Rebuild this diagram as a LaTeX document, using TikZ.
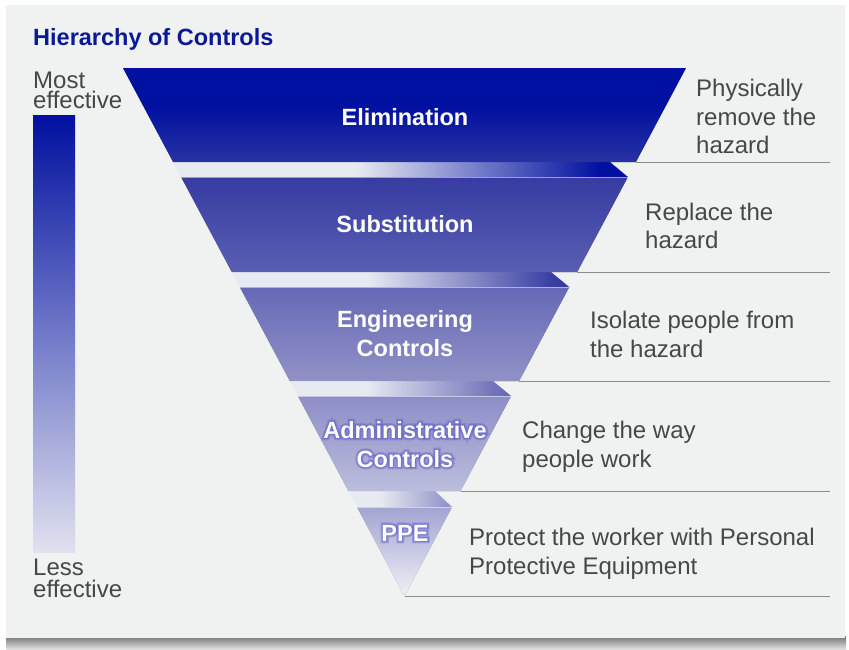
\documentclass[tikz,border=0pt]{standalone}
\usepackage{fontspec}
\setmainfont{Liberation Sans}
\newfontfamily\glowwide{Liberation Sans Bold}[FakeBold=20]
\newfontfamily\glownarrow{Liberation Sans Bold}[FakeBold=10]
\definecolor{cardbg}{HTML}{F0F1F1}
\definecolor{titleblue}{HTML}{0A1A96}
\definecolor{txtgrey}{HTML}{474747}
\definecolor{linegrey}{HTML}{8C8C8C}
\definecolor{bandlight}{HTML}{E8EAF2}
\definecolor{eTop}{HTML}{0010A0}
\definecolor{eBot}{HTML}{2832A2}
\definecolor{sTop}{HTML}{363CA2}
\definecolor{sBot}{HTML}{5A5EB2}
\definecolor{gTop}{HTML}{6668B6}
\definecolor{gBot}{HTML}{9092C6}
\definecolor{aTop}{HTML}{8C8EC6}
\definecolor{aBot}{HTML}{BCBDDD}
\definecolor{pTop}{HTML}{A2A4D2}
\definecolor{pBot}{HTML}{F0F0F6}
\definecolor{barBot}{HTML}{E0E1EF}
\definecolor{glowc}{HTML}{5C5EC6}
\pgfdeclarehorizontalshading{bandA}{100bp}{color(0bp)=(bandlight); color(45bp)=(bandlight); color(72bp)=(eTop); color(100bp)=(eTop)}
\pgfdeclarehorizontalshading{bandB}{100bp}{color(0bp)=(bandlight); color(45bp)=(bandlight); color(73bp)=(sTop); color(100bp)=(sTop)}
\pgfdeclarehorizontalshading{bandC}{100bp}{color(0bp)=(bandlight); color(42bp)=(bandlight); color(74bp)=(gTop); color(100bp)=(gTop)}
\pgfdeclarehorizontalshading{bandD}{100bp}{color(0bp)=(bandlight); color(40bp)=(bandlight); color(75bp)=(aTop); color(100bp)=(aTop)}
\pgfdeclareverticalshading{elimsh}{100bp}{color(0bp)=(eBot); color(25bp)=(eBot); color(55bp)=(eTop); color(100bp)=(eTop)}
\begin{document}
\begin{tikzpicture}[x=1pt,y=-1pt,
  rtext/.style={anchor=base west, inner sep=0pt, text=txtgrey, font=\fontsize{24}{28}\selectfont},
  ltext/.style={anchor=base west, inner sep=0pt, text=txtgrey, font=\fontsize{24}{20}\selectfont},
  lbl/.style={anchor=base, inner sep=0pt, text=white, font=\fontsize{23.5}{28}\selectfont\bfseries},
  glowA/.style={anchor=base, inner sep=0pt, text=glowc, opacity=0.35, font=\fontsize{23.5}{28}\selectfont\glowwide},
  glowB/.style={anchor=base, inner sep=0pt, text=glowc, opacity=0.45, font=\fontsize{23.5}{28}\selectfont\glownarrow},
  guide/.style={draw=linegrey, line width=0.9pt},
  shad/.style={fill=black, opacity=0.09}]
\useasboundingbox (0,0) rectangle (849,649);
\fill[white] (0,0) rectangle (849,649);
% card
\shade[top color=black!55, bottom color=black!12] (6,636) rectangle (846,649);
\fill[cardbg] (6,5) rectangle (845,638);

% title
\node[anchor=base west, inner sep=0pt, text=titleblue, font=\fontsize{23.5}{28}\selectfont\bfseries] (title) at (33,45) {Hierarchy of Controls};

% left scale
\node[ltext] (most1) at (33,88) {Most};
\node[ltext] (most2) at (33,108) {effective};
\shade[top color=eTop, bottom color=barBot] (33,115) rectangle (75,552);
\node[ltext] (less1) at (33,575) {Less};
\node[ltext] (less2) at (33,597) {effective};

% coordinates of the funnel
\coordinate (E1) at (123,68);   \coordinate (E2) at (686,68);
\coordinate (E3) at (635.9,162); \coordinate (E4) at (173.1,162);
\coordinate (S1) at (181.1,177); \coordinate (S2) at (627.9,177);
\coordinate (S3) at (577.2,272); \coordinate (S4) at (231.8,272);
\coordinate (G1) at (239.8,287); \coordinate (G2) at (569.3,287);
\coordinate (G3) at (519.1,381); \coordinate (G4) at (289.9,381);
\coordinate (A1) at (297.9,396); \coordinate (A2) at (511.1,396);
\coordinate (A3) at (460.5,491); \coordinate (A4) at (348.5,491);
\coordinate (P1) at (357,507);   \coordinate (P2) at (452,507);
\coordinate (P3) at (404.5,596);

% shadows
\foreach \dx/\dy in {-4/3,-3/2,-2/1,-1/0,0/-2,1/-1} {
  \fill[shad, shift={(\dx,\dy)}] (E1) -- (E2) -- (E3) -- (E4) -- cycle;
  \fill[shad, shift={(\dx,\dy)}] (S1) -- (S2) -- (S3) -- (S4) -- cycle;
  \fill[shad, shift={(\dx,\dy)}] (G1) -- (G2) -- (G3) -- (G4) -- cycle;
  \fill[shad, shift={(\dx,\dy)}] (A1) -- (A2) -- (A3) -- (A4) -- cycle;
  \fill[shad, shift={(\dx,\dy)}] (P1) -- (P2) -- (P3) -- cycle;
}

% guide lines
\draw[guide] (E3) -- (830,162);
\draw[guide] (S3) -- (830,272);
\draw[guide] (G3) -- (830,381);
\draw[guide] (A3) -- (830,491);
\draw[guide] (P3) -- (830,596);

% bands
\shade[shading=bandA] (E4) -- (610,162) -- (S2) -- (S1) -- cycle;
\shade[shading=bandB] (S4) -- (551,272) -- (G2) -- (G1) -- cycle;
\shade[shading=bandC] (G4) -- (493,381) -- (A2) -- (A1) -- cycle;
\shade[shading=bandD] (A4) -- (435,491) -- (P2) -- (P1) -- cycle;

% layers
\shade[shading=elimsh] (E1) -- (E2) -- (E3) -- (E4) -- cycle;
\shade[top color=sTop, bottom color=sBot] (S1) -- (S2) -- (S3) -- (S4) -- cycle;
\shade[top color=gTop, bottom color=gBot] (G1) -- (G2) -- (G3) -- (G4) -- cycle;
\shade[top color=aTop, bottom color=aBot] (A1) -- (A2) -- (A3) -- (A4) -- cycle;
\shade[top color=pTop, bottom color=pBot] (P1) -- (P2) -- (P3) -- cycle;
\draw[white, opacity=0.5, line width=0.6pt] (S1) -- (S2) (G1) -- (G2) (A1) -- (A2) (P1) -- (P2);

% glows
\node[glowA] (gaw) at (405,438) {Administrative};
\node[glowA] (gcw) at (405,467) {Controls};
\node[glowA] (gpw) at (405,541) {PPE};
\node[glowB] (gan) at (405,438) {Administrative};
\node[glowB] (gcn) at (405,467) {Controls};
\node[glowB] (gpn) at (405,541) {PPE};

% labels
\node[lbl] (elim) at (405,125) {Elimination};
\node[lbl] (subst) at (405,232) {Substitution};
\node[lbl] (eng1) at (405,327) {Engineering};
\node[lbl] (eng2) at (405,356) {Controls};
\node[lbl] (adm1) at (405,438) {Administrative};
\node[lbl] (adm2) at (405,467) {Controls};
\node[lbl] (ppe) at (405,541) {PPE};

% right descriptions
\node[rtext] (d1a) at (696,96.5) {Physically};
\node[rtext] (d1b) at (696,125) {remove the};
\node[rtext] (d1c) at (696,153.5) {hazard};
\node[rtext] (d2a) at (645,220) {Replace the};
\node[rtext] (d2b) at (645,248.5) {hazard};
\node[rtext] (d3a) at (590,328.5) {Isolate people from};
\node[rtext] (d3b) at (590,357) {the hazard};
\node[rtext] (d4a) at (522,438.5) {Change the way};
\node[rtext] (d4b) at (522,467) {people work};
\node[rtext] (d5a) at (469,545.5) {Protect the worker with Personal};
\node[rtext] (d5b) at (469,574) {Protective Equipment};
\end{tikzpicture}
\end{document}
